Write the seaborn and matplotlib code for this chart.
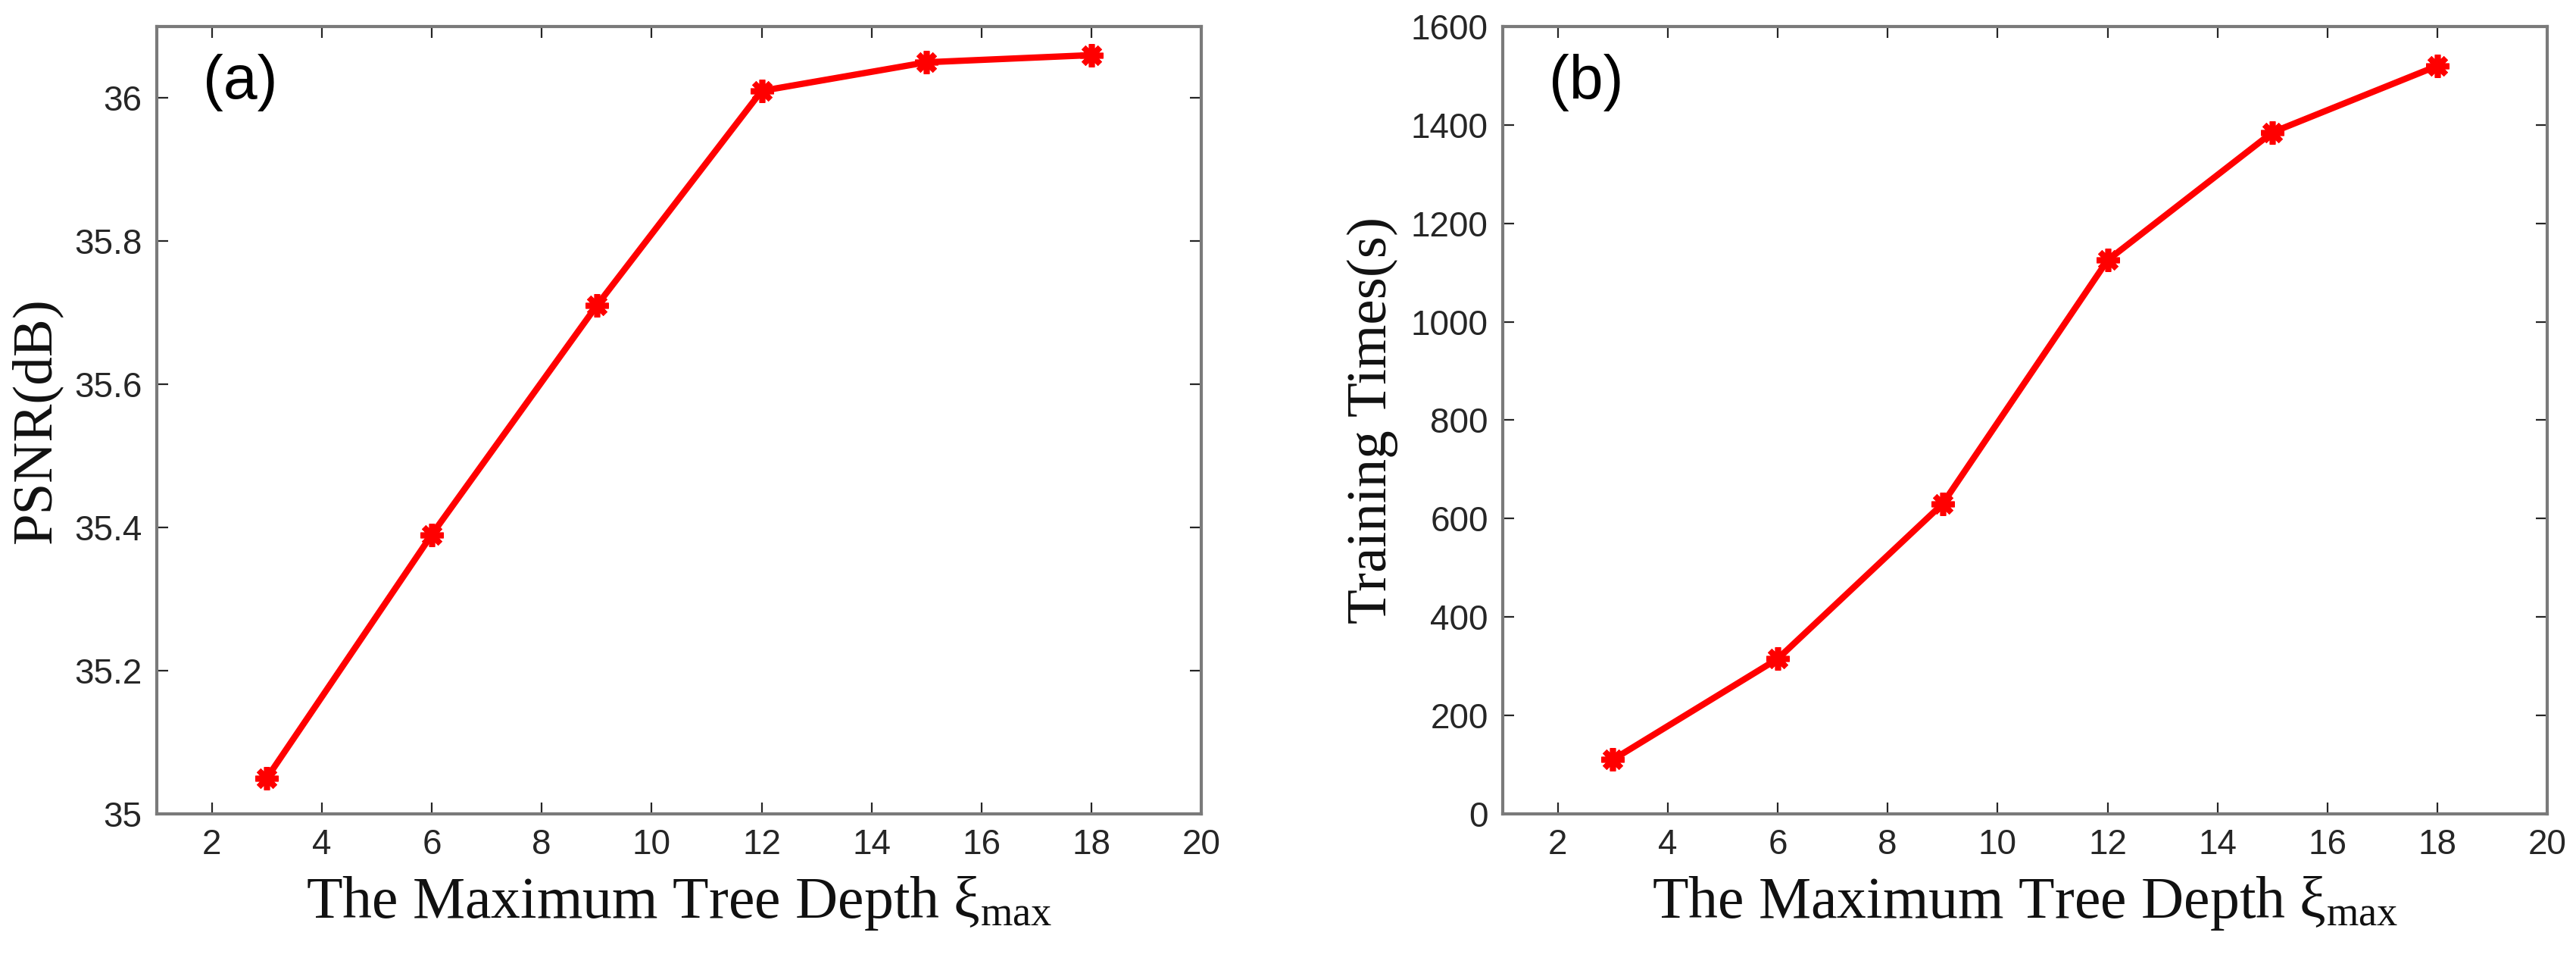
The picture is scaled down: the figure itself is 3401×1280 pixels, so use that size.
"""
Recreation of the tree-depth figure: PSNR and training time vs. maximum tree depth
"""

import matplotlib
matplotlib.use('Agg')
import matplotlib.pyplot as plt
import seaborn as sns
import pandas as pd

# data
depths = [3, 6, 9, 12, 15, 18]
psnr_db = [35.05, 35.39, 35.71, 36.01, 36.05, 36.06]
train_times = [110, 315, 630, 1125, 1385, 1520]

x_ticks = [2, 4, 6, 8, 10, 12, 14, 16, 18, 20]
psnr_ticks = [35, 35.2, 35.4, 35.6, 35.8, 36]
time_ticks = [0, 200, 400, 600, 800, 1000, 1200, 1400, 1600]

sns.set_theme(style='ticks')
plt.rcParams['font.family'] = ['Liberation Sans Narrow', 'Liberation Sans', 'DejaVu Sans']
plt.rcParams['mathtext.fontset'] = 'custom'
plt.rcParams['mathtext.rm'] = 'Liberation Serif'
plt.rcParams['mathtext.it'] = 'Liberation Serif:italic'

SERIF = ['Liberation Serif', 'DejaVu Serif']
XLABEL = r'The Maximum Tree Depth ξ$_{\mathrm{max}}$'


def style_axes(ax, yticks, ylim, ylabel, tag):
    ax.set_xlim(1, 20)
    ax.set_ylim(*ylim)
    ax.set_xticks(x_ticks)
    ax.set_yticks(yticks)
    ax.set_yticklabels([f'{t:g}' for t in yticks])
    for sp in ax.spines.values():
        sp.set_visible(True)
        sp.set_color('#7a7a7a')
        sp.set_linewidth(3)
    ax.tick_params(direction='in', length=11, width=1.6, colors='#262626',
                   labelsize=33, top=True, right=True, pad=14)
    ax.set_xlabel(XLABEL, family=SERIF, fontsize=56, color='#111111', labelpad=12)
    ax.set_ylabel(ylabel, family=SERIF, fontsize=54, color='#111111', labelpad=12)
    ax.text(0.044, 0.965, tag, transform=ax.transAxes, ha='left', va='top',
            fontsize=58, family=['Liberation Sans', 'DejaVu Sans'], color='black')


fig = plt.figure(figsize=(34.01, 12.8), dpi=100)
ax1 = fig.add_axes([0.0609, 0.161, 0.4055, 0.8117])
ax2 = fig.add_axes([0.5834, 0.161, 0.4055, 0.8117])

df = pd.DataFrame({'depth': depths, 'psnr': psnr_db, 'time': train_times})

line_kw = dict(color='#ff0000', linewidth=6, marker=(8, 2, 0),
               markersize=22, markeredgewidth=5.5, markeredgecolor='#ff0000')
sns.lineplot(data=df, x='depth', y='psnr', ax=ax1, **line_kw)
sns.lineplot(data=df, x='depth', y='time', ax=ax2, **line_kw)

style_axes(ax1, psnr_ticks, (35, 36.1), 'PSNR(dB)', '(a)')
style_axes(ax2, time_ticks, (0, 1600), 'Training Times(s)', '(b)')

fig.savefig('out.png', dpi=100)
plt.close(fig)
